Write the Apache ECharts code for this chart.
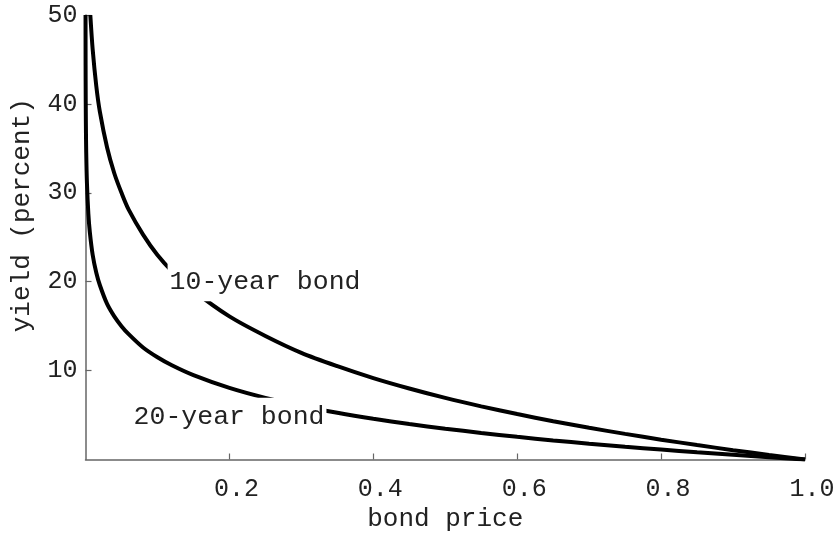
<!DOCTYPE html>
<html><head><meta charset="utf-8">
<script src="https://cdn.jsdelivr.net/npm/echarts@6/dist/echarts.min.js"></script>
<style>html,body{margin:0;padding:0;background:#fff}#c{width:837px;height:536px}</style>
</head><body><div id="c"></div>
<script>
// bond price (x) and yield in percent (y)
const price10 = [0.0067,0.01,0.015,0.02,0.03,0.04,0.05,0.06,0.08,0.10,0.12,0.15,0.20,0.25,0.30,0.35,0.40,0.45,0.50,0.55,0.60,0.65,0.70,0.75,0.80,0.85,0.90,0.95,1.00];
const yield10 = [50,46.1,42.0,39.1,35.1,32.2,30.0,28.1,25.3,23.0,21.2,19.0,16.1,13.9,12.0,10.5,9.16,7.99,6.93,5.98,5.11,4.31,3.57,2.88,2.23,1.63,1.05,0.51,0];
const price20 = [0.000045,0.0001,0.0002,0.0005,0.001,0.002,0.004,0.006,0.01,0.015,0.02,0.03,0.04,0.05,0.06,0.08,0.10,0.12,0.15,0.20,0.25,0.30,0.35,0.40,0.45,0.50,0.55,0.60,0.65,0.70,0.75,0.80,0.85,0.90,0.95,1.00];
const yield20 = [50,46.1,42.6,38.0,34.5,31.1,27.6,25.6,23.0,21.0,19.6,17.5,16.1,15.0,14.1,12.6,11.5,10.6,9.49,8.05,6.93,6.02,5.25,4.58,3.99,3.47,2.99,2.55,2.15,1.78,1.44,1.12,0.81,0.53,0.26,0];
const curveLabels = ['10-year bond','20-year bond'];
const labelX = [0.2495, 0.1995];
const labelY = [20.0, 4.75];
const xTicks = [0.2,0.4,0.6,0.8,1.0];
const yTicks = [10,20,30,40,50];

const FONT = '"Liberation Mono", "DejaVu Sans Mono", monospace';
const zip = (a,b)=>a.map((v,i)=>[v,b[i]]);
const chart = echarts.init(document.getElementById('c'), null, {renderer:'canvas'});
const axisLine = {show:true, lineStyle:{color:'#666', width:1.5}};
chart.setOption({
  animation:false,
  grid:{left:85.5, right:32, top:15, bottom:76.5, containLabel:false, outerBoundsMode:'none'},
  xAxis:{type:'value', min:0, max:1, interval:0.2,
    name:'bond price', nameLocation:'middle', nameGap:45,
    nameTextStyle:{fontFamily:FONT, fontSize:26, color:'#222'},
    axisLine:axisLine, splitLine:{show:false},
    axisTick:{show:true, inside:true, length:6, lineStyle:{color:'#666', width:1.2}},
    axisLabel:{fontFamily:FONT, fontSize:25, color:'#222', margin:17, showMinLabel:false, padding:[0,0,0,14],
      formatter:v=> xTicks.some(t=>Math.abs(t-v)<1e-9) ? v.toFixed(1) : ''}
  },
  yAxis:{type:'value', min:0, max:50, interval:10,
    name:'yield (percent)', nameLocation:'middle', nameGap:50, nameRotate:90,
    nameTextStyle:{fontFamily:FONT, fontSize:26, color:'#222', padding:[0,0,0,44]},
    axisLine:axisLine, splitLine:{show:false},
    axisTick:{show:true, inside:true, length:6, lineStyle:{color:'#666', width:1.2}},
    axisLabel:{fontFamily:FONT, fontSize:25, color:'#222', margin:8, showMinLabel:false,
      formatter:v=> yTicks.includes(v) ? String(v) : ''}
  },
  series:[
    {type:'line', data:zip(price10,yield10), smooth:0.3, showSymbol:false, lineStyle:{color:'#000', width:4}, z:2},
    {type:'line', data:zip(price20,yield20), smooth:0.3, showSymbol:false, lineStyle:{color:'#000', width:4}, z:2},
    {type:'scatter', symbolSize:0, z:10, silent:true, itemStyle:{opacity:1},
      data:labelX.map((x,i)=>({value:[x,labelY[i]], name:curveLabels[i]})),
      label:{show:true, position:'inside', formatter:p=>p.name, fontFamily:FONT, fontSize:26.5, color:'#222',
        backgroundColor:'#fff', padding:[6,2,6,2], opacity:1}
    }
  ]
});
</script></body></html>
